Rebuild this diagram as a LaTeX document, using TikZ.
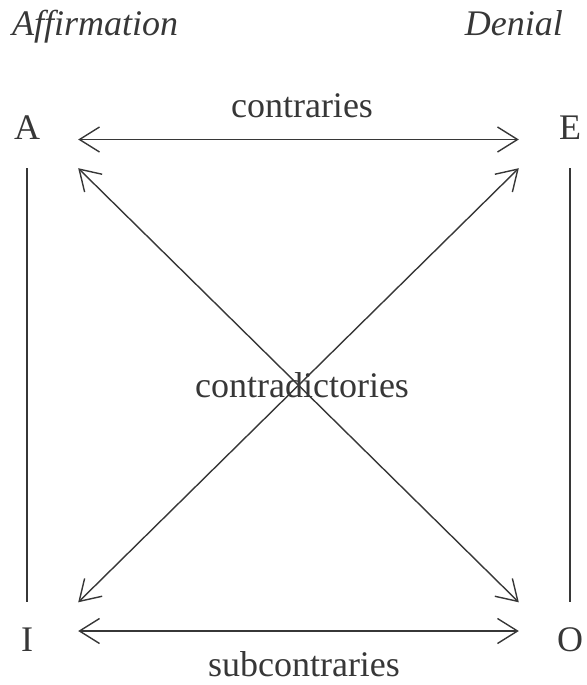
\documentclass[tikz,border=0pt]{standalone}
\usepackage{fontspec}
\setmainfont{Liberation Serif}
\usetikzlibrary{arrows.meta}
\definecolor{inkGray}{RGB}{55,55,55}

\begin{document}
\begin{tikzpicture}[
  x=1pt, y=-1pt,
  every node/.style={font=\fontsize{36}{40}\selectfont, text=inkGray},
  corner/.style={inner sep=0pt, minimum width=102pt, minimum height=57pt},
  top corner/.style={corner, text height=0pt, text depth=0pt},
  bottom corner/.style={corner, text height=40pt, text depth=0pt},
  word/.style={anchor=base, inner sep=0pt},
  link/.style={line width=1.4pt, draw=inkGray},
  >={Straight Barb[length=20pt, width=25pt]}
]
  \useasboundingbox (0,0) rectangle (586,685);

  % --- column headings ---
  \node[word, anchor=base west, font=\fontsize{36}{40}\selectfont\itshape] (aff) at (12,36) {Affirmation};
  \node[word, anchor=base east, font=\fontsize{36}{40}\selectfont\itshape] (den) at (563,36) {Denial};

  % --- the four corners ---
  \node[top corner]    (A) at (27,139.5) {A};
  \node[top corner]    (E) at (570,139.5) {E};
  \node[bottom corner] (I) at (27,631)   {I};
  \node[bottom corner] (O) at (570,631)  {O};

  % --- relations ---
  \draw[<->, link] (A) -- (E);
  \draw[<->, link] (I) -- (O);
  \draw[link] (A) -- (I);
  \draw[link] (E) -- (O);
  \draw[<->, link] (A.south east) -- (O.north west);
  \draw[<->, link] (E.south west) -- (I.north east);

  % --- labels ---
  \node[word] (contr)    at (302,117) {contraries};
  \node[word] (contrad)  at (302,397) {contradictories};
  \node[word] (subcontr) at (304,676) {subcontraries};
\end{tikzpicture}
\end{document}
